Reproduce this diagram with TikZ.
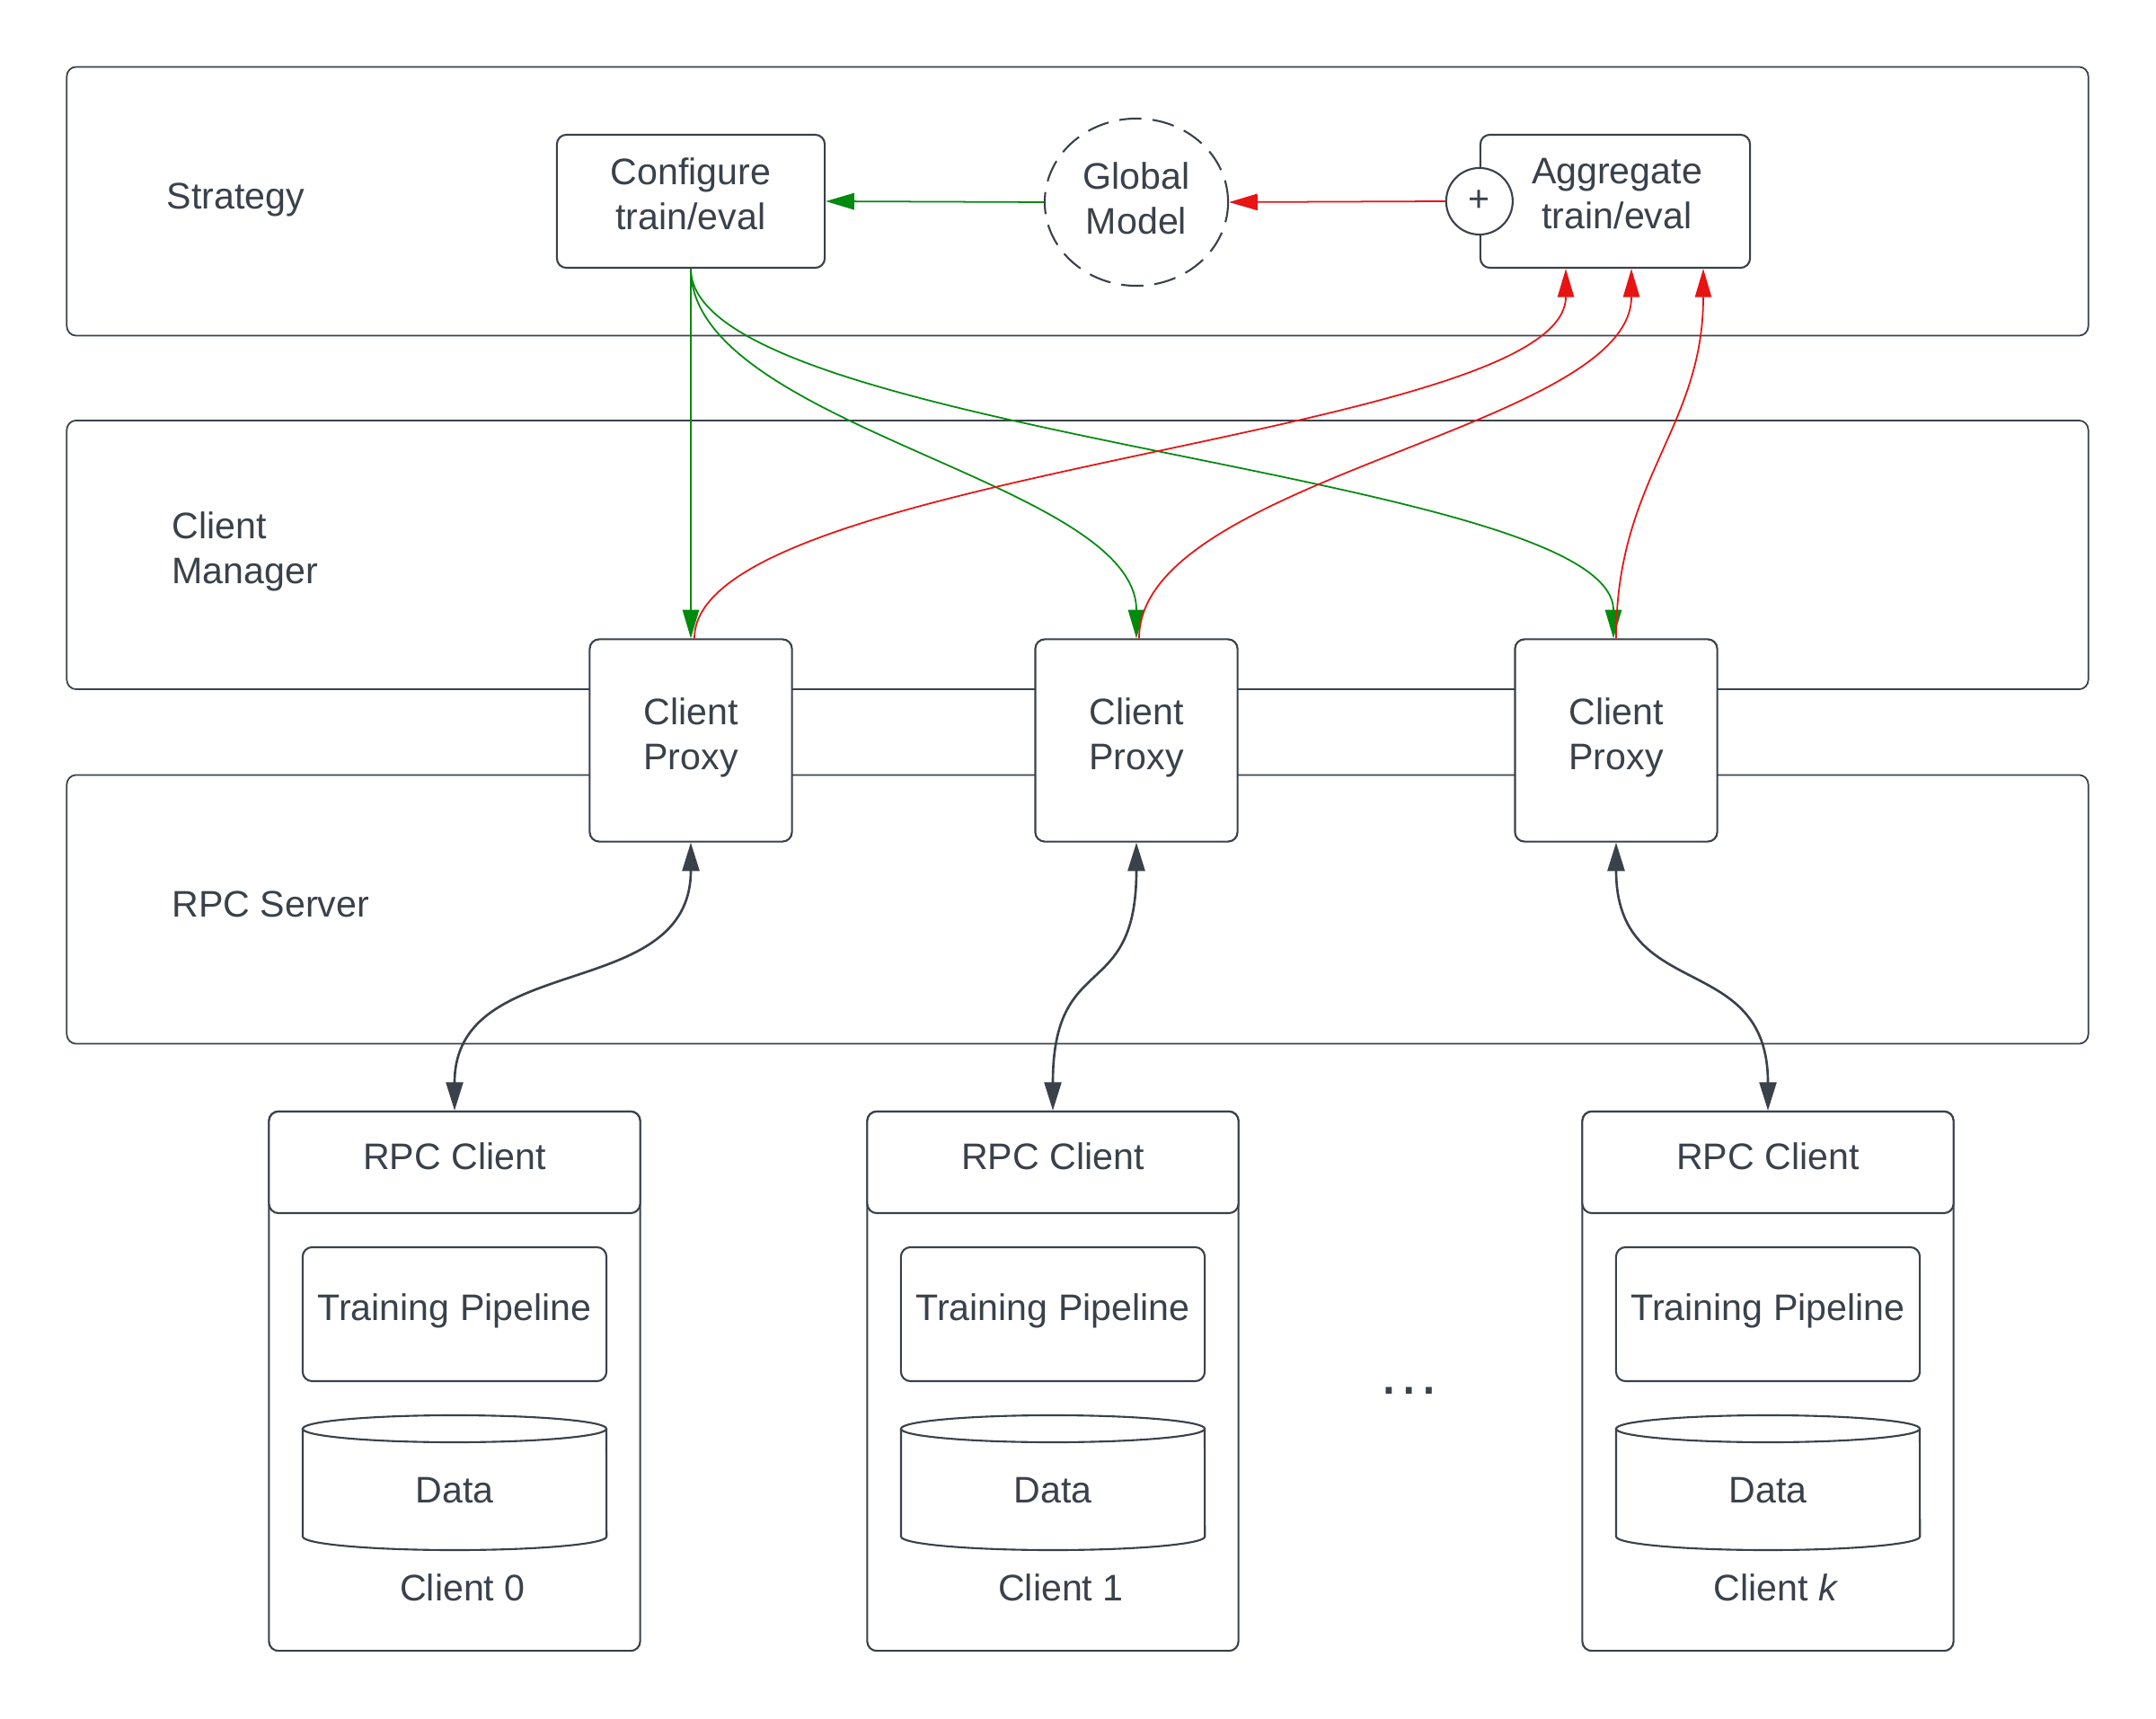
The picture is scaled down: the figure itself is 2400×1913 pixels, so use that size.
\documentclass[tikz,border=0pt]{standalone}
\usepackage{fontspec}
\setmainfont{Liberation Sans}
\usetikzlibrary{arrows.meta,calc,shapes.geometric}
\definecolor{ink}{HTML}{3A414A}
\definecolor{lgreen}{HTML}{008A0E}
\definecolor{lred}{HTML}{E81313}
\begin{document}
\begin{tikzpicture}[x=0.01cm,y=-0.01cm,
  font=\fontsize{11.7}{14.2}\selectfont, text=ink,
  band/.style={draw=ink, line width=0.5pt, rounded corners=3pt, minimum width=22.49cm, minimum height=2.99cm, inner sep=0pt},
  box/.style={draw=ink, line width=0.6pt, rounded corners=3pt, fill=white, align=center, inner sep=0pt},
  txt/.style={inner sep=0pt, align=center},
  lab/.style={inner sep=0pt, align=left, anchor=west},
  garr/.style={draw=lgreen, line width=0.5pt, -{Triangle[length=9pt,width=5.2pt]}},
  rarr/.style={draw=lred, line width=0.5pt, -{Triangle[length=9pt,width=5.2pt]}},
  darr/.style={draw=ink, line width=0.75pt, {Triangle[length=9pt,width=5.4pt]}-{Triangle[length=9pt,width=5.4pt]}},
  cyl/.style={draw=ink, line width=0.6pt, fill=white}
]
\useasboundingbox (0,0) rectangle (2400,1913);
\fill[white] (0,0) rectangle (2400,1913);

% bands
\node[band] (sband) at (1199.5,224) {};
\node[band] (cmband) at (1199.5,617.5) {};
\node[band] (rpcband) at (1199.5,1012) {};
\node[lab] (slab) at (185,222) {Strategy};
\node[lab] (cmlab) at (191,614) {Client\\Manager};
\node[lab] (rslab) at (191,1006) {RPC Server};

% strategy nodes
\node[box, minimum width=2.98cm, minimum height=1.48cm] (cfg) at (769,224) {};
\node[txt] (cfgt) at (769,216) {Configure\\train/eval};
\node[box, minimum width=3.0cm, minimum height=1.48cm] (agg) at (1798,224) {};
\node[txt] (aggt) at (1800,216) {Aggregate\\train/eval};
\node[draw=ink, line width=0.6pt, dash pattern=on 7pt off 3.5pt, ellipse, minimum width=2.04cm, minimum height=1.86cm, inner sep=0pt, fill=white] (gm) at (1265,225) {};
\node[txt] (gmt) at (1265,221) {Global\\Model};
\node[circle, draw=ink, line width=0.6pt, fill=white, minimum size=0.74cm, inner sep=0pt] (plus) at (agg.west) {+};

% proxies
\node[box, minimum width=2.25cm, minimum height=2.25cm] (p1) at (769,824) {};
\node[txt] (p1t) at (769,821) {Client\\Proxy};
\node[box, minimum width=2.25cm, minimum height=2.25cm] (p2) at (1265,824) {};
\node[txt] (p2t) at (1265,821) {Client\\Proxy};
\node[box, minimum width=2.25cm, minimum height=2.25cm] (p3) at (1799,824) {};
\node[txt] (p3t) at (1799,821) {Client\\Proxy};

% clients
\foreach \cx/\nm/\lb in {506/0/{Client 0}, 1172/1/{Client 1}, 1968/k/{Client \textit{k}}}{
  \node[box, minimum width=4.13cm, minimum height=6.0cm] (cl\nm) at (\cx,1537) {};
  \node[box, minimum width=4.13cm, minimum height=1.13cm] (rpc\nm) at (\cx,1293.5) {};
  \node[txt] (rpct\nm) at (\cx,1287) {RPC Client};
  \node[box, minimum width=3.38cm, minimum height=1.49cm] (tp\nm) at (\cx,1462.5) {};
  \node[txt] (tpt\nm) at (\cx,1459) {Training Pipeline};
  \draw[cyl] (\cx-169,1590) -- (\cx-169,1710) arc[start angle=180,end angle=360,x radius=1.69cm,y radius=0.15cm] -- (\cx+169,1590);
  \draw[cyl] (\cx,1590) ellipse [x radius=1.69cm, y radius=0.15cm];
  \node[inner sep=0pt] (data\nm) at (\cx,1659) {Data};
  \node[inner sep=0pt] (cap\nm) at (\cx+9,1767) {\lb};
}
\node[inner sep=0pt, anchor=base, font=\fontsize{20}{24}\selectfont] (dots) at (1569,1551) {…};

% strategy internal arrows
\draw[garr] (gm.west) -- (cfg.east);
\draw[rarr] (plus.west) -- (gm.east);

% configure -> proxies
\draw[garr] (cfg.south) -- (p1.north);
\draw[garr] (cfg.south) .. controls +(0,175) and +(0,-175) .. (p2.north);
\draw[garr] (cfg.south) .. controls +(0,186) and +(0,-186) .. ($(p3.north)+(-3,0)$);

% proxies -> aggregate
\draw[rarr] ($(p1.north)+(4,0)$) .. controls +(0,-188) and +(0,188) .. ($(agg.south)+(-55,0)$);
\draw[rarr] ($(p2.north)+(3,0)$) .. controls +(0,-178) and +(0,178) .. ($(agg.south)+(18,0)$);
\draw[rarr] (p3.north) .. controls +(0,-178) and +(0,178) .. ($(agg.south)+(98,0)$);

% proxies <-> rpc clients
\draw[darr] (p1.south) .. controls +(0,180) and +(0,-180) .. (rpc0.north);
\draw[darr] (p2.south) .. controls +(0,180) and +(0,-180) .. (rpc1.north);
\draw[darr] (p3.south) .. controls +(0,180) and +(0,-180) .. (rpck.north);
\end{tikzpicture}
\end{document}
